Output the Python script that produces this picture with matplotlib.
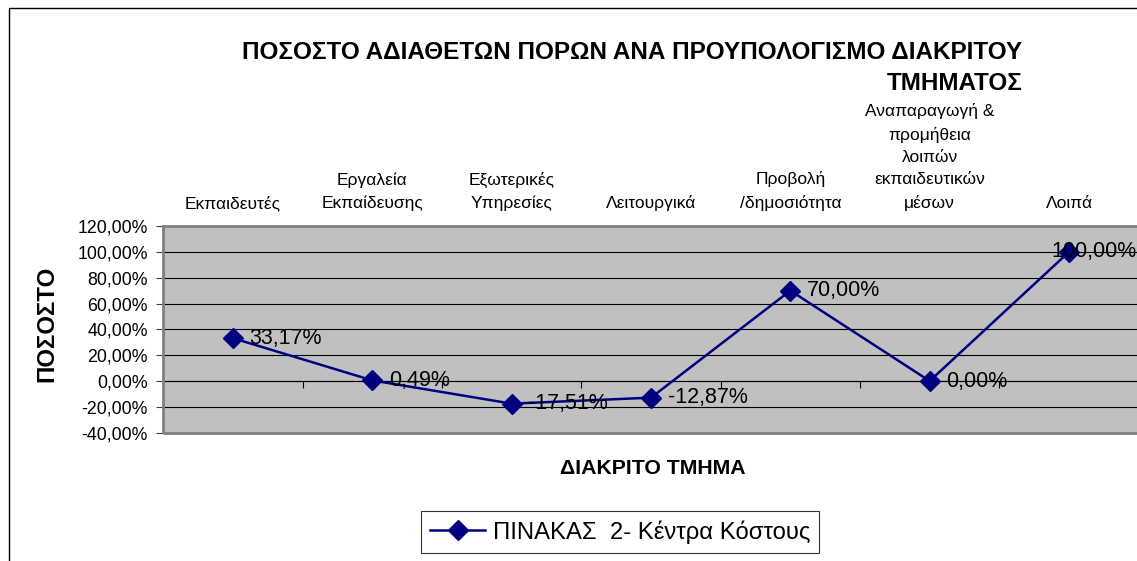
import matplotlib
matplotlib.use("Agg")
import matplotlib.pyplot as plt
from matplotlib.patches import Rectangle

plt.rcParams['font.family'] = ['Liberation Sans', 'DejaVu Sans']

# data
categories = ['Εκπαιδευτές', 'Εργαλεία\nΕκπαίδευσης', 'Εξωτερικές\nΥπηρεσίες',
              'Λειτουργικά', 'Προβολή\n/δημοσιότητα',
              'Αναπαραγωγή &\nπρομήθεια\nλοιπών\nεκπαιδευτικών\nμέσων', 'Λοιπά']
values = [33.17, 0.49, -17.51, -12.87, 70.00, 0.00, 100.00]
series_name = 'ΠΙΝΑΚΑΣ  2- Κέντρα Κόστους'
y_ticks = [-40, -20, 0, 20, 40, 60, 80, 100, 120]

def pct(v):
    return f"{v:.2f}%".replace('.', ',')

fig = plt.figure(figsize=(11.37, 5.61), dpi=100)
ax = fig.add_axes([0.1436, 0.2287, 0.8579, 0.3684])
ax.set_facecolor('#C0C0C0')

x = list(range(len(categories)))
ax.plot(x, values, color='#000080', lw=1.8, marker='D', markersize=10,
        label=series_name, zorder=3)

# data labels
for i, v in enumerate(values):
    dx = 12 if i < len(values) - 1 else -13
    ax.annotate(pct(v), (i, v), xytext=(dx, 0), textcoords='offset points',
                ha='left', va='center', fontsize=15.5, zorder=4,
                annotation_clip=False)

ax.set_xlim(-0.5, len(categories) - 0.5)
ax.set_ylim(-40, 120)
ax.set_yticks(y_ticks)
ax.set_yticklabels([pct(v) for v in y_ticks], fontsize=12.8)
ax.tick_params(axis='y', direction='out', length=5, color='#404040', pad=6)
ax.yaxis.grid(True, color='black', lw=0.8)
ax.set_axisbelow(True)

# x axis crossing at zero with ticks between categories
ax.spines['bottom'].set_position(('data', 0))
ax.spines['bottom'].set_color('black')
ax.set_xticks([i + 0.5 for i in range(len(categories) - 1)])
ax.set_xticklabels([])
ax.tick_params(axis='x', direction='out', length=5, color='black')
for s in ['top', 'right']:
    ax.spines[s].set_visible(False)
ax.spines['left'].set_color('#404040')
ax.add_patch(Rectangle((0, 0), 1, 1, transform=ax.transAxes, fill=False,
                       ec='#808080', lw=2, zorder=5, clip_on=False))

# category labels on top
top = ax.secondary_xaxis('top')
top.set_xticks(x)
top.set_xticklabels(categories, fontsize=12.5, linespacing=1.6)
top.tick_params(length=0, pad=11)
top.spines['top'].set_visible(False)

fig.text(0.899, 0.878, 'ΠΟΣΟΣΤΟ ΑΔΙΑΘΕΤΩΝ ΠΟΡΩΝ ΑΝΑ ΠΡΟΥΠΟΛΟΓΙΣΜΟ ΔΙΑΚΡΙΤΟΥ\nΤΜΗΜΑΤΟΣ',
         ha='right', va='center', fontsize=17.5, fontweight='bold', linespacing=1.45)
fig.text(0.041, 0.4225, 'ΠΟΣΟΣΤΟ', rotation=90, ha='center', va='center',
         fontsize=17.3, fontweight='bold')
fig.text(0.574, 0.165, 'ΔΙΑΚΡΙΤΟ ΤΜΗΜΑ', ha='center', va='center',
         fontsize=15.3, fontweight='bold')

leg = fig.legend(loc='center', bbox_to_anchor=(0.5455, 0.0517), fontsize=17.2,
                 frameon=True, fancybox=False, edgecolor='black',
                 handlelength=2.3, borderpad=0.38, handletextpad=0.3,
                 borderaxespad=0)
leg.get_frame().set_linewidth(0.8)

# chart border
fig.add_artist(Rectangle((0.0075, -0.1), 1.2, 1.085, transform=fig.transFigure,
                         fill=False, ec='black', lw=1))

fig.savefig('out.png', dpi=100)
